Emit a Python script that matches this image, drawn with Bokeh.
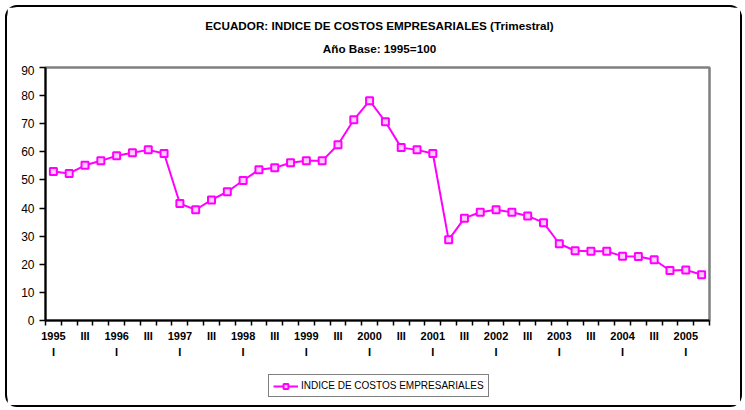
from bokeh.plotting import figure
from bokeh.layouts import column
from bokeh.models import (ColumnDataSource, FixedTicker, Legend, LegendItem,
                          Range1d, LinearAxis, Label)
from bokeh.embed import file_html
from bokeh.resources import INLINE

years = ["1995", "1996", "1997", "1998", "1999", "2000", "2001", "2002", "2003", "2004", "2005"]
quarters = ["I", "II", "III", "IV"]
values = [53.0, 52.3, 55.2, 56.8,
          58.6, 59.7, 60.7, 59.4,
          41.6, 39.4, 42.9, 45.8,
          49.8, 53.6, 54.3, 56.1,
          56.8, 56.8, 62.5, 71.4,
          78.2, 70.7, 61.5, 60.7,
          59.4, 28.7, 36.4, 38.5,
          39.4, 38.5, 37.2, 34.8,
          27.3, 24.8, 24.6, 24.6,
          22.9, 22.8, 21.6, 17.8,
          18.0, 16.3]
y_ticks = [0, 10, 20, 30, 40, 50, 60, 70, 80, 90]
title1 = "ECUADOR: INDICE DE COSTOS EMPRESARIALES (Trimestral)"
title2 = "Año Base: 1995=100"
series_name = "INDICE DE COSTOS EMPRESARIALES"

labels = [f"{y} {q}" for y in years for q in quarters][:len(values)]
n = len(values)
xs = [i + 0.5 for i in range(n)]
src = ColumnDataSource(dict(x=xs, y=values, lab=labels))

W, H0, H1, H2 = 733, 58, 307, 33


def strip(height):
    f = figure(width=W, height=height, output_backend="svg", toolbar_location=None,
               x_range=Range1d(0, 1), y_range=Range1d(0, 1),
               min_border=0, x_axis_type=None, y_axis_type=None, title=None)
    f.outline_line_color = None
    f.background_fill_color = "white"
    f.border_fill_color = "white"
    f.xgrid.grid_line_color = None
    f.ygrid.grid_line_color = None
    return f


# title strip
p0 = strip(H0)
for txt, ypos in ((title1, 40), (title2, 17)):
    p0.add_layout(Label(x=334, y=ypos, x_units="screen", y_units="screen", text=txt,
                        text_align="center", text_baseline="alphabetic",
                        text_font="Liberation Sans", text_font_style="bold",
                        text_font_size="11.7px", text_color="black"))

# main chart
p = figure(width=W, height=H1, output_backend="svg", toolbar_location=None,
           x_range=Range1d(0, n), y_range=Range1d(0, 90),
           min_border_left=38, min_border_right=31, min_border_top=2, min_border_bottom=52,
           x_axis_type=None, y_axis_type=None, title=None)
p.background_fill_color = "white"
p.border_fill_color = "white"
p.outline_line_color = "#808080"
p.outline_line_width = 2.5

yax = LinearAxis(ticker=FixedTicker(ticks=y_ticks))
yax.axis_line_color = "black"
yax.axis_line_width = 2
yax.major_tick_line_color = "black"
yax.major_tick_line_width = 1.5
yax.major_tick_in = 0
yax.major_tick_out = 6
yax.minor_tick_line_color = None
yax.major_label_text_font = "Liberation Sans"
yax.major_label_text_font_size = "12px"
yax.major_label_text_color = "black"
yax.major_label_standoff = 5
p.add_layout(yax, "left")

# x axis: labels at every other category centre, ticks at category boundaries
major = [i + 0.5 for i in range(0, n, 2)]
overrides = {}
for i in range(0, n, 2):
    yr, q = labels[i].split(" ")
    overrides[i + 0.5] = f"{yr}\n{q}" if q == "I" else q
xax = LinearAxis(ticker=FixedTicker(ticks=major, minor_ticks=list(range(0, n + 1))))
xax.major_label_overrides = overrides
xax.axis_line_color = "black"
xax.axis_line_width = 2
xax.major_tick_line_color = None
xax.major_tick_in = 0
xax.major_tick_out = 0
xax.minor_tick_line_color = "black"
xax.minor_tick_line_width = 1.5
xax.minor_tick_in = 0
xax.minor_tick_out = 5
xax.major_label_text_font = "Liberation Sans"
xax.major_label_text_font_style = "bold"
xax.major_label_text_font_size = "11px"
xax.major_label_text_color = "black"
xax.major_label_standoff = 4
xax.major_label_text_line_height = 1.4
p.add_layout(xax, "below")

p.ygrid.ticker = FixedTicker(ticks=y_ticks)
p.ygrid.grid_line_color = "black"
p.ygrid.grid_line_width = 1.5
p.xgrid.grid_line_color = None

line_style = dict(line_color="#FF00FF", line_width=2)
marker_style = dict(marker="square", size=7, line_color="#FF00FF", line_width=2,
                    fill_color="#FFCCFF")
p.line("x", "y", source=src, **line_style)
p.scatter("x", "y", source=src, **marker_style)

# legend strip below the chart (its sample glyphs sit outside the visible range)
p2 = strip(H2)
sample = ColumnDataSource(dict(x=[-10, -9], y=[-10, -10]))
ln2 = p2.line("x", "y", source=sample, **line_style)
mk2 = p2.scatter("x", "y", source=sample, marker="square", size=6, line_color="#FF00FF",
                 line_width=2, fill_color="#FFCCFF")
legend = Legend(items=[LegendItem(label=series_name, renderers=[ln2, mk2])],
                location=(223, 8), orientation="horizontal",
                label_text_font="Liberation Sans", label_text_font_size="10px",
                label_text_color="black", label_height=13, glyph_height=12, glyph_width=25,
                label_standoff=3, padding=4, spacing=0, margin=0,
                border_line_color="black", border_line_width=1.5,
                background_fill_color="white", background_fill_alpha=1)
p2.add_layout(legend, "center")

root = column(p0, p, p2, spacing=0,
              styles={"border": "2px solid black", "border-radius": "12px",
                      "margin": "5px 0 0 5px", "background": "white"})

open("out.html", "w").write(file_html(root, INLINE))
